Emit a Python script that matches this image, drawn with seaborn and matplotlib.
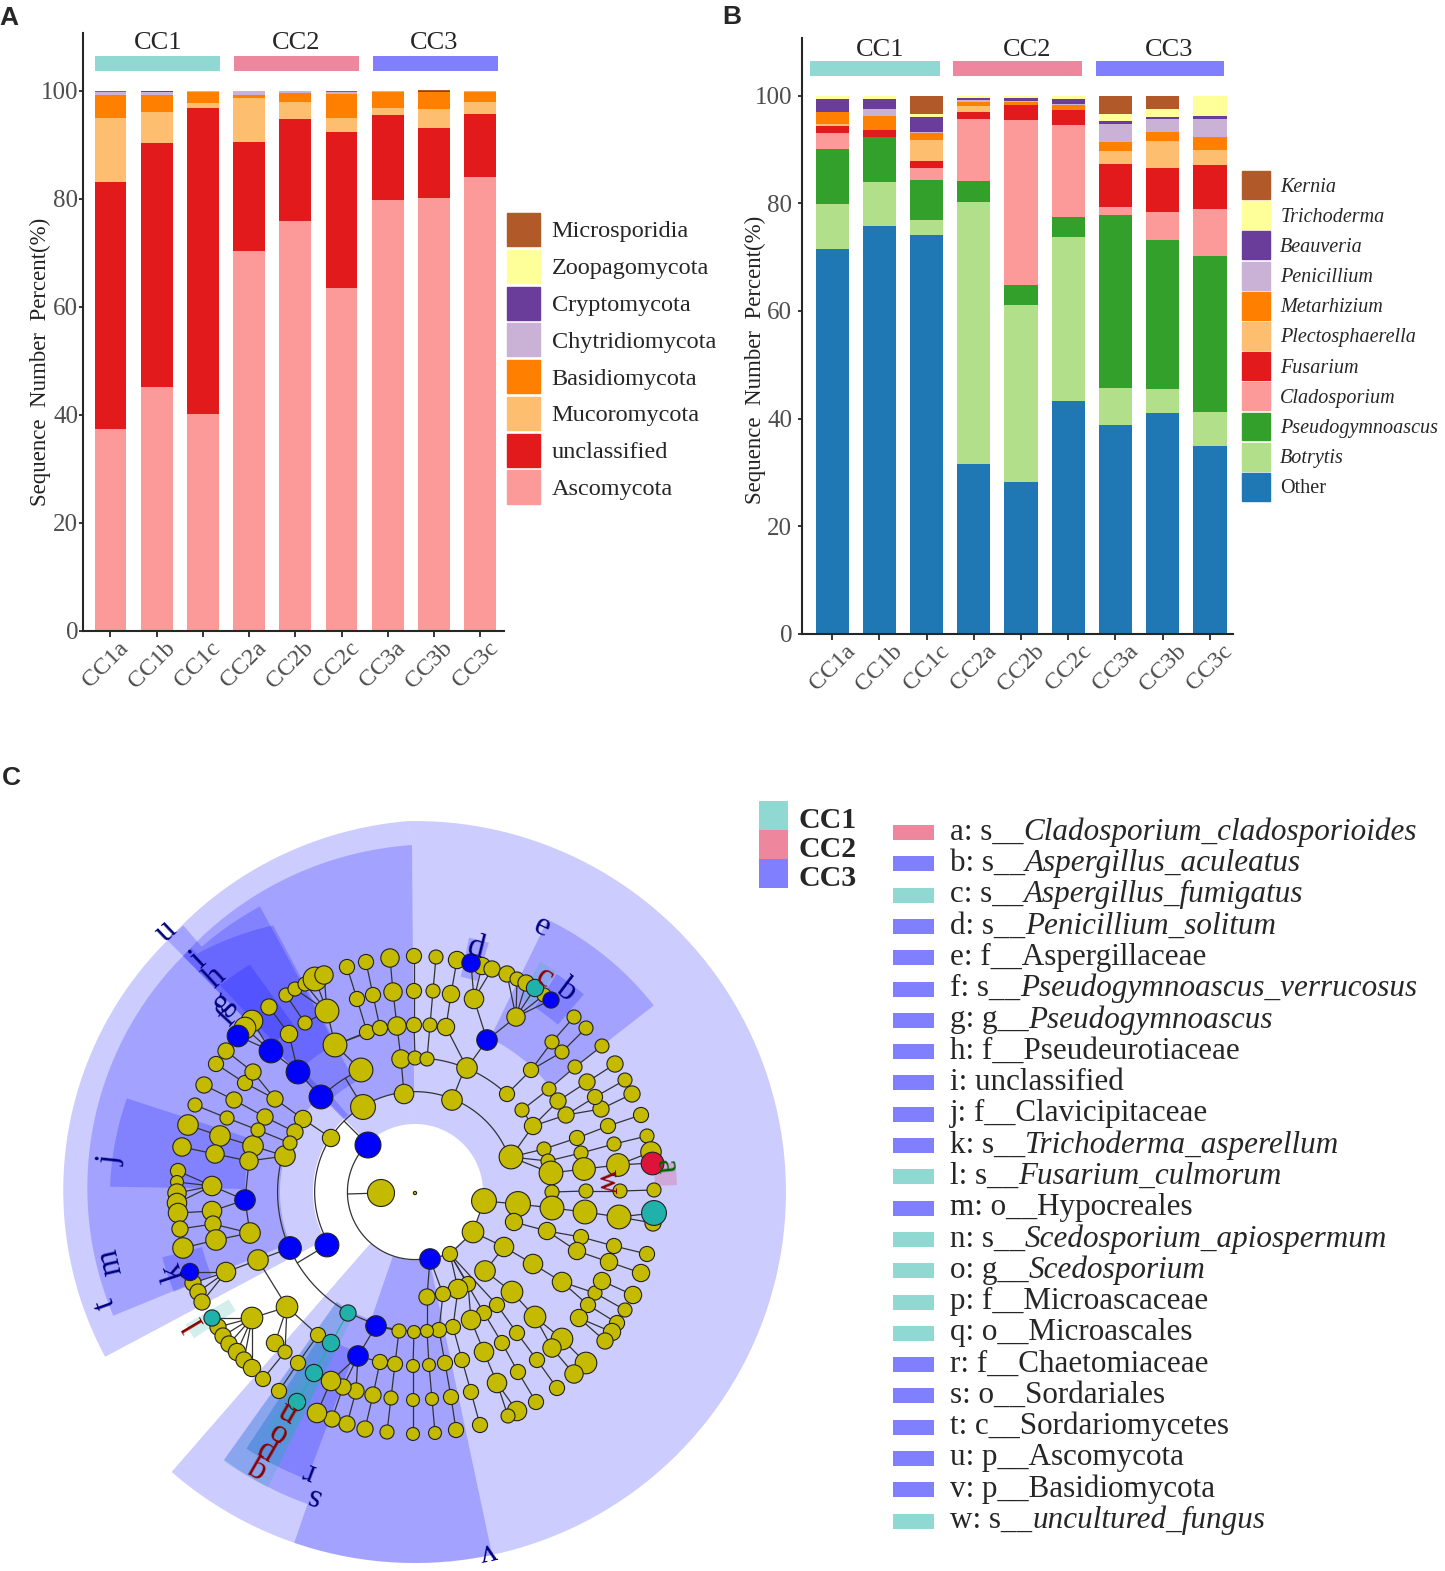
import numpy as np
import seaborn as sns
import matplotlib.pyplot as plt
from matplotlib.patches import Patch
from matplotlib.transforms import ScaledTranslation

samples = ['CC1a', 'CC1b', 'CC1c', 'CC2a', 'CC2b', 'CC2c', 'CC3a', 'CC3b', 'CC3c']
group_names = ['CC1', 'CC2', 'CC3']
group_colors = ['#8FD9D2', '#EE879D', '#8080FF']

# panel A, phyla, bottom to top
phylum_names = ['Ascomycota', 'unclassified', 'Mucoromycota', 'Basidiomycota',
                'Chytridiomycota', 'Cryptomycota', 'Zoopagomycota', 'Microsporidia']
phylum_colors = ['#FB9A99', '#E31A1C', '#FDBF6F', '#FF7F00', '#CAB2D6', '#6A3D9A', '#FFFF99', '#B15928']
ascomycota = [37.4, 45.2, 40.2, 70.4, 75.9, 63.5, 79.8, 80.1, 84.0]
unclassified = [45.7, 45.1, 56.6, 20.2, 18.9, 28.8, 15.7, 13.1, 11.7]
mucoromycota = [11.8, 5.8, 1.0, 8.0, 3.1, 2.6, 1.4, 3.5, 2.3]
basidiomycota = [4.3, 3.1, 2.0, 0.7, 1.7, 4.6, 2.8, 3.1, 1.8]
chytridiomycota = [0.6, 0.5, 0.1, 0.6, 0.3, 0.3, 0.2, 0.0, 0.1]
cryptomycota = [0.0, 0.2, 0.0, 0.0, 0.0, 0.0, 0.0, 0.1, 0.0]
zoopagomycota = [0.0, 0.0, 0.0, 0.0, 0.0, 0.0, 0.0, 0.0, 0.0]
microsporidia = [0.2, 0.1, 0.1, 0.1, 0.1, 0.1, 0.1, 0.2, 0.1]
phylum_values = [ascomycota, unclassified, mucoromycota, basidiomycota,
                 chytridiomycota, cryptomycota, zoopagomycota, microsporidia]

# panel B, genera, bottom to top
genus_names = ['Other', 'Botrytis', 'Pseudogymnoascus', 'Cladosporium', 'Fusarium', 'Plectosphaerella',
               'Metarhizium', 'Penicillium', 'Beauveria', 'Trichoderma', 'Kernia']
genus_colors = ['#1F78B4', '#B2DF8A', '#33A02C', '#FB9A99', '#E31A1C', '#FDBF6F',
                '#FF7F00', '#CAB2D6', '#6A3D9A', '#FFFF99', '#B15928']
other = [71.5, 75.7, 74.1, 31.6, 28.3, 43.3, 38.8, 41.1, 35.0]
botrytis = [8.4, 8.3, 2.8, 48.7, 32.9, 30.4, 6.9, 4.4, 6.3]
pseudogymnoascus = [10.2, 8.4, 7.5, 3.8, 3.6, 3.8, 32.1, 27.6, 29.0]
cladosporium = [2.9, 0.0, 2.1, 11.6, 30.6, 17.1, 1.5, 5.2, 8.6]
fusarium = [1.3, 1.2, 1.3, 1.3, 2.8, 2.7, 8.0, 8.2, 8.3]
plectosphaerella = [0.5, 0.0, 4.0, 1.1, 0.0, 0.0, 2.5, 5.0, 2.7]
metarhizium = [2.1, 2.6, 1.2, 0.7, 0.6, 1.0, 1.6, 1.8, 2.4]
penicillium = [0.1, 1.3, 0.3, 0.3, 0.2, 0.2, 3.3, 2.3, 3.3]
beauveria = [2.4, 1.8, 2.7, 0.5, 0.6, 0.8, 0.5, 0.5, 0.6]
trichoderma = [0.6, 0.7, 0.6, 0.4, 0.4, 0.7, 1.3, 1.4, 3.8]
kernia = [0.0, 0.0, 3.4, 0.0, 0.0, 0.0, 3.5, 2.5, 0.0]
genus_values = [other, botrytis, pseudogymnoascus, cladosporium, fusarium, plectosphaerella,
                metarhizium, penicillium, beauveria, trichoderma, kernia]

# panel C, cladogram nodes (pixels), one parent index per node
clade_x = [415, 381, 368, 430, 363, 404, 452, 511, 331, 327,
           361, 321, 335, 367, 357, 347, 380, 373, 366, 327, 305, 286, 295, 305, 315, 324,
           298, 271, 238, 252, 245, 289, 269,
           401, 397, 393, 390, 415, 414, 414, 414, 427, 430, 433, 436,
           467, 446, 451, 457, 487, 474, 482, 492, 471, 516, 507, 517, 526, 544, 535, 551,
           507, 531, 552, 574, 562, 586,
           533, 522, 549, 575, 602, 566, 601, 632, 595, 625, 558, 587, 615,
           544, 577, 608, 641, 548, 581, 614, 647, 551, 584, 618, 651, 652, 552, 586, 620, 654,
           450, 473, 484, 518, 552, 585, 619, 653, 654,
           514, 547, 581, 614, 647, 577, 609, 641,
           504, 533, 562, 595, 625, 602, 633, 588, 617, 579, 612, 605,
           485, 512, 535, 562, 586, 552, 574,
           468, 497, 517, 537, 557, 484, 502, 518, 536, 471, 484, 497, 517, 508,
           458, 453, 462, 471, 480, 443, 439, 445, 451, 456, 427, 427, 429, 432, 435,
           285, 290, 348, 376, 331, 314, 297,
           399, 395, 391, 387, 414, 413, 413, 413,
           358, 380, 373, 365, 356, 347, 343, 332, 331, 317,
           258, 226, 193, 198, 202, 190, 287, 318, 298, 279,
           252, 218, 223, 229, 237, 244, 252, 212, 275, 285, 263,
           253, 220, 188, 249, 215, 182, 245, 212, 178, 177, 177, 177, 178, 212,
           250, 213, 180, 216, 183,
           303, 275, 245, 216, 253, 226, 295, 265, 234, 204, 290, 258, 227, 195]
clade_y = [1193, 1193, 1145, 1259, 1107, 1094, 1100, 1157, 1138, 1245,
           1070, 1097, 1045, 1032, 999, 967, 1028, 995, 962, 1011, 1023, 995, 989, 984, 979, 975,
           1072, 1051, 1036, 1021, 1028, 1034, 1007,
           1059, 1026, 992, 958, 1058, 1025, 991, 956, 1059, 1025, 991, 957,
           1068, 1027, 994, 960, 1040, 999, 966, 969, 963, 1017, 974, 979, 983, 995, 988, 1000,
           1094, 1070, 1042, 1017, 1052, 1028,
           1126, 1110, 1089, 1067, 1046, 1115, 1109, 1094, 1097, 1080, 1101, 1082, 1064,
           1149, 1138, 1126, 1115, 1161, 1153, 1144, 1136, 1173, 1169, 1165, 1152, 1163, 1192, 1191, 1191, 1190,
           1254, 1232, 1201, 1204, 1208, 1212, 1217, 1223, 1213,
           1222, 1231, 1237, 1246, 1254, 1251, 1262, 1273,
           1247, 1264, 1282, 1293, 1310, 1281, 1295, 1305, 1323, 1318, 1332, 1341,
           1271, 1292, 1317, 1339, 1363, 1348, 1374,
           1284, 1305, 1333, 1360, 1388, 1313, 1343, 1372, 1402, 1320, 1352, 1383, 1411, 1416,
           1289, 1327, 1360, 1392, 1425, 1294, 1330, 1363, 1397, 1430, 1297, 1331, 1365, 1399, 1433,
           1156, 1248, 1313, 1326, 1343, 1373, 1402,
           1331, 1364, 1398, 1432, 1332, 1366, 1400, 1434,
           1356, 1362, 1395, 1429, 1391, 1424, 1387, 1419, 1381, 1413,
           1260, 1272, 1283, 1292, 1302, 1272, 1307, 1335, 1363, 1391,
           1318, 1327, 1336, 1344, 1352, 1360, 1368, 1318, 1343, 1352, 1379,
           1146, 1136, 1125, 1161, 1154, 1147, 1200, 1186, 1171, 1182, 1193, 1203, 1213, 1211,
           1233, 1224, 1229, 1240, 1248,
           1119, 1099, 1083, 1064, 1072, 1051, 1132, 1117, 1100, 1085, 1143, 1130, 1118, 1105]
clade_d = [3, 25, 24, 19, 23, 18, 19, 22, 16, 22,
           22, 22, 22, 14, 14, 14, 14, 14, 14, 22, 13, 13, 13, 13, 22, 17,
           22, 22, 20, 20, 20, 16, 15,
           17, 17, 17, 17, 13, 14, 14, 14, 13, 13, 13, 13,
           19, 16, 16, 16, 19, 18, 16, 15, 17, 17, 15, 13, 15, 13, 16, 15,
           14, 14, 13, 13, 13, 13,
           16, 13, 13, 13, 13, 15, 15, 15, 14, 13, 15, 15, 15,
           13, 14, 14, 14, 13, 13, 13, 13, 22, 21, 21, 19, 21, 13, 13, 13, 13,
           14, 20, 23, 23, 22, 22, 22, 15, 23,
           16, 16, 14, 14, 14, 16, 16, 16,
           18, 18, 18, 13, 13, 16, 16, 14, 14, 16, 16, 15,
           19, 20, 20, 20, 20, 17, 17,
           14, 14, 14, 14, 14, 14, 14, 14, 14, 18, 18, 18, 18, 13,
           18, 14, 14, 14, 14, 14, 14, 14, 14, 14, 15, 12, 12, 12, 12,
           19, 21, 15, 19, 16, 16, 16,
           13, 14, 13, 13, 12, 12, 12, 12,
           19, 14, 15, 15, 15, 15, 15, 15, 18, 18,
           19, 18, 15, 15, 15, 16, 20, 14, 14, 14,
           20, 15, 15, 15, 16, 15, 16, 15, 16, 13, 14,
           19, 19, 19, 17, 17, 17, 19, 18, 14, 12, 17, 18, 18, 18,
           19, 15, 15, 19, 19,
           16, 15, 14, 14, 15, 15, 15, 15, 15, 15, 13, 13, 13, 13]
clade_parent = [-1, -1, 1, 1, 2, 2, 2, 2, 2, 2,
                4, 4, 10, 12, 13, 14, 12, 16, 17, 12, 19, 20, 19, 19, 19, 19,
                11, 26, 27, 27, 27, 26, 31,
                5, 33, 34, 35, 6, 37, 38, 39, 6, 41, 42, 43,
                6, 45, 46, 47, 45, 49, 50, 50, 50, 49, 54, 54, 54, 54, 54, 54,
                6, 61, 62, 63, 62, 65,
                7, 67, 68, 69, 70, 67, 72, 73, 72, 75, 67, 77, 78,
                7, 80, 81, 82, 7, 84, 85, 86, 7, 88, 89, 90, 90, 88, 93, 94, 95,
                3, 97, 98, 99, 100, 101, 102, 103, 103,
                100, 106, 107, 108, 109, 107, 111, 112,
                98, 114, 115, 116, 117, 117, 119, 116, 121, 121, 123, 123,
                114, 126, 127, 128, 129, 128, 131,
                97, 97, 134, 135, 136, 97, 138, 139, 140, 133, 142, 143, 144, 144,
                97, 147, 148, 149, 150, 3, 152, 153, 154, 155, 3, 157, 158, 159, 160,
                9, 9, 9, 9, 164, 166, 167,
                165, 169, 170, 171, 165, 173, 174, 175,
                165, 177, 178, 179, 177, 181, 177, 183, 177, 185,
                163, 187, 188, 188, 188, 188, 187, 193, 194, 195,
                193, 197, 197, 197, 197, 197, 197, 197, 193, 193, 206,
                162, 208, 209, 162, 211, 212, 211, 214, 215, 215, 215, 215, 221, 214,
                214, 222, 223, 222, 225,
                8, 227, 228, 229, 228, 231, 227, 233, 234, 235, 233, 237, 238, 239]
# nodes enriched in a group, by index, the rest are not significant
cc1_nodes = [59, 105, 164, 166, 167, 168, 204]
cc2_nodes = [92]
cc3_nodes = [2, 3, 9, 11, 26, 27, 28, 49, 53, 60, 163, 165, 177, 192, 214]
arc_parents = [1, 2, 4, 6, 9]

# shaded clade sectors: angle from, angle to, inner radius, outer radius at both ends
sector_t1 = [-91, -134, 152, 157.7, 226, 225.5, 229, 227.5, 225.5, 226.7, 181, 157.5,
             -64, -78, -57, 78, 109, 110.6]
sector_t2 = [131, -91, 226, 226, 269.5, 229, 241.5, 242, 227.5, 234, 198, 165.5,
             -38, -73.5, -49.5, 109, 125.5, 123.3]
sector_rin = [68, 68, 102, 135, 100, 102, 125, 168, 135, 205, 170, 220,
              171, 220, 220, 68, 135, 170]
sector_r1 = [371, 353, 351, 326, 331, 353, 325, 323, 331, 284, 305, 261,
             303, 260, 260, 371, 330, 307]
sector_r2 = [371, 371, 353, 331, 347, 353, 325, 302, 331, 281, 303, 261,
             303, 260, 260, 371, 329, 307]
teal_t1 = [116.5, 116.5, 117, 118, -61.5, 146.5]
teal_t2 = [125.4, 123.3, 122, 120, -57.5, 150]
teal_rin = [135, 170, 205, 240, 220, 215]
teal_rout = [330, 307, 282, 260, 262, 265]

label_chars = ['a', 'b', 'c', 'd', 'e', 'f', 'g', 'h', 'i', 'j', 'k', 'l',
               'm', 'n', 'o', 'p', 'q', 'r', 's', 't', 'u', 'v', 'w']
label_x = [666, 567, 544, 476, 542, 227, 223, 215, 198, 110, 173, 195,
           110, 288, 277, 267, 256, 309, 313, 105, 166, 488, 608]
label_y = [1167, 990, 978, 948, 927, 1017, 1002, 977, 960, 1160, 1272, 1323,
           1262, 1412, 1432, 1450, 1468, 1472, 1497, 1303, 931, 1552, 1182]
label_colors = ['#006400', '#000080', '#8B0000', '#000080', '#000080', '#000080', '#000080', '#000080',
                '#000080', '#000080', '#000080', '#8B0000', '#000080', '#8B0000', '#8B0000', '#8B0000',
                '#8B0000', '#000080', '#000080', '#000080', '#000080', '#000080', '#8B0000']

key_prefix = ['a: s__', 'b: s__', 'c: s__', 'd: s__', 'e: f__Aspergillaceae', 'f: s__', 'g: g__',
              'h: f__Pseudeurotiaceae', 'i: unclassified', 'j: f__Clavicipitaceae', 'k: s__', 'l: s__',
              'm: o__Hypocreales', 'n: s__', 'o: g__', 'p: f__Microascaceae', 'q: o__Microascales',
              'r: f__Chaetomiaceae', 's: o__Sordariales', 't: c__Sordariomycetes', 'u: p__Ascomycota',
              'v: p__Basidiomycota', 'w: s__']
key_italic = ['Cladosporium_cladosporioides', 'Aspergillus_aculeatus', 'Aspergillus_fumigatus',
              'Penicillium_solitum', '', 'Pseudogymnoascus_verrucosus', 'Pseudogymnoascus', '', '', '',
              'Trichoderma_asperellum', 'Fusarium_culmorum', '', 'Scedosporium_apiospermum',
              'Scedosporium', '', '', '', '', '', '', '', 'uncultured_fungus']
key_group = [1, 2, 0, 2, 2, 2, 2, 2, 2, 2, 2, 0, 2, 0, 0, 0, 0, 2, 2, 2, 2, 2, 0]

sns.set_style('ticks')
plt.rcParams['font.family'] = ['Liberation Serif', 'DejaVu Serif']

W, H = 1445, 1571
fig = plt.figure(figsize=(W / 100, H / 100), dpi=100)


def stacked_panel(box, values, colors, xlim, bar_width, spans, group_y, ypad, xshift):
    left, top, right, bottom = box
    ax = fig.add_axes([left / W, 1 - bottom / H, (right - left) / W, (bottom - top) / H])
    base = np.zeros(len(samples))
    for vals, col in zip(values, colors):
        sns.barplot(x=samples, y=vals, bottom=base, color=col, saturation=1, width=bar_width,
                    errorbar=None, linewidth=0, ax=ax)
        base = base + np.array(vals)
    for (x0, x1), col in zip(spans, group_colors):
        ax.bar((x0 + x1) / 2, group_y[1] - group_y[0], x1 - x0, bottom=group_y[0], color=col, linewidth=0)
    ax.set_xlim(*xlim)
    ax.set_ylim(0, 110.7)
    ax.set_yticks([0, 20, 40, 60, 80, 100])
    ax.set_xlabel('')
    ax.set_ylabel('')
    ax.tick_params(axis='y', labelsize=18, labelcolor='#4d4d4d', width=1.3, length=3, pad=ypad)
    ax.tick_params(axis='x', labelsize=17.5, labelcolor='#4d4d4d', width=1.3, length=4, labelrotation=45, pad=1)
    shift = ScaledTranslation(xshift / 100, 0, fig.dpi_scale_trans)
    for lab in ax.get_xticklabels():
        lab.set_transform(lab.get_transform() + shift)
    sns.despine(ax=ax)
    for s in ['left', 'bottom']:
        ax.spines[s].set_linewidth(1.5)
    return ax


ax_a = stacked_panel((83, 33, 504, 631), phylum_values, phylum_colors, (-0.595, 8.517), 0.69,
                     [(-0.335, 2.37), (2.675, 5.38), (5.685, 8.39)], (103.7, 106.5), 0.5, -5)
ax_b = stacked_panel((802, 38, 1233, 634), genus_values, genus_colors, (-0.64, 8.49), 0.705,
                     [(-0.477, 2.28), (2.55, 5.29), (5.58, 8.29)], (103.7, 106.4), 4, 0)

# overlay in picture pixels for the cladogram and the loose texts
page = fig.add_axes([0, 0, 1, 1], facecolor='none')
page.set_xlim(0, W)
page.set_ylim(H, 0)
page.axis('off')

for name, x, y in zip(group_names * 2, [158, 296, 434, 880, 1027, 1169], [43, 43, 43, 50, 50, 50]):
    page.text(x, y, name, fontsize=19, ha='center', va='center')
page.text(40, 362, 'Sequence  Number  Percent(%)', fontsize=16.5, rotation=90, ha='center', va='center', color='#222222')
page.text(755, 360, 'Sequence  Number  Percent(%)', fontsize=16.5, rotation=90, ha='center', va='center', color='#222222')
for ch, x, y in zip('ABC', [9, 732, 11], [18, 17, 778]):
    page.text(x, y, ch, fontsize=19, fontweight='bold', family='Liberation Sans', ha='center', va='center')

leg_a = fig.legend(handles=[Patch(color=c, label=n) for n, c in zip(phylum_names[::-1], phylum_colors[::-1])],
                   loc='upper left', bbox_to_anchor=(507 / W, 1 - 213 / H), frameon=False, fontsize=17.5,
                   handlelength=1.37, handleheight=1.72, labelspacing=0.15, handletextpad=0.47, borderpad=0, borderaxespad=0)
leg_b = fig.legend(handles=[Patch(color=c, label=n) for n, c in zip(genus_names[::-1], genus_colors[::-1])],
                   loc='upper left', bbox_to_anchor=(1242 / W, 1 - 171 / H), frameon=False, fontsize=14.5,
                   handlelength=1.4, handleheight=1.76, labelspacing=0.11, handletextpad=0.5, borderpad=0, borderaxespad=0)
for t in leg_b.get_texts():
    if t.get_text() != 'Other':
        t.set_fontstyle('italic')

# cladogram
cx, cy = 415.0, 1192.0


def sector(t1, t2, rin, r1, r2, color):
    th = np.radians(np.linspace(t1, t2, 120))
    ro = np.linspace(r1, r2, 120)
    xs = np.r_[cx + ro * np.cos(th), cx + rin * np.cos(th[::-1])]
    ys = np.r_[cy + ro * np.sin(th), cy + rin * np.sin(th[::-1])]
    page.fill(xs, ys, color=color, alpha=0.2, linewidth=0, zorder=1)


for t1, t2, rin, r1, r2 in zip(sector_t1, sector_t2, sector_rin, sector_r1, sector_r2):
    sector(t1, t2, rin, r1, r2, '#0000FF')
for t1, t2, rin, ro in zip(teal_t1, teal_t2, teal_rin, teal_rout):
    sector(t1, t2, rin, ro, ro, '#20B2AA')
sector(-6.5, -1.5, 240, 262, 262, '#DC143C')

xy = np.column_stack([clade_x, clade_y]).astype(float)
for i, p in enumerate(clade_parent):
    if p < 0 or p in arc_parents:
        continue
    col = '#20B2AA' if i in cc1_nodes and p in cc1_nodes else '#333333'
    page.plot([xy[p, 0], xy[i, 0]], [xy[p, 1], xy[i, 1]], color=col, lw=0.9, zorder=2)

for p in arc_parents:
    kids = [i for i, q in enumerate(clade_parent) if q == p]
    pa = np.degrees(np.arctan2(xy[p, 1] - cy, xy[p, 0] - cx))
    ka = np.degrees(np.arctan2(xy[kids, 1] - cy, xy[kids, 0] - cx))
    ka = pa + (ka - pa + 180) % 360 - 180
    rr = np.hypot(xy[kids, 0] - cx, xy[kids, 1] - cy).mean()
    th = np.radians(np.linspace(ka.min(), ka.max(), 100))
    page.plot(cx + rr * np.cos(th), cy + rr * np.sin(th), color='#333333', lw=0.9, zorder=2)
    page.plot([xy[p, 0], cx + rr * np.cos(np.radians(pa))], [xy[p, 1], cy + rr * np.sin(np.radians(pa))],
              color='#333333', lw=0.9, zorder=2)

kind = np.zeros(len(clade_x), dtype=int)
kind[cc1_nodes] = 1
kind[cc2_nodes] = 2
kind[cc3_nodes] = 3
node_colors = ['#C4BA00', '#20B2AA', '#DC143C', '#0000FF']
area = (np.array(clade_d) * 0.72 * 1.08) ** 2
for k, col in enumerate(node_colors):
    m = kind == k
    sns.scatterplot(x=xy[m, 0], y=xy[m, 1], s=area[m], color=col, edgecolor='#222222', linewidth=0.8,
                    ax=page, legend=False, zorder=3 + k)
page.set_xlim(0, W)
page.set_ylim(H, 0)
page.axis('off')

for ch, x, y, col in zip(label_chars, label_x, label_y, label_colors):
    th = np.degrees(np.arctan2(y - cy, x - cx))
    page.text(x, y, ch, color=col, fontsize=24, rotation=(270 - th) % 360, rotation_mode='anchor',
              ha='center', va='center', zorder=8)

# CC1/CC2/CC3 key
for i, (name, col) in enumerate(zip(group_names, group_colors)):
    y0 = 801 + 29 * i
    page.fill([759, 788, 788, 759], [y0, y0, y0 + 29, y0 + 29], color=col, linewidth=0)
    page.text(798, y0 + 19, name, fontsize=21.5, fontweight='bold', ha='left', va='center')

# taxa key
renderer = fig.canvas.get_renderer()
for i, (pre, ita, g) in enumerate(zip(key_prefix, key_italic, key_group)):
    y = 829 + 31.3 * i
    page.fill([893, 934, 934, 893], [y - 4, y - 4, y + 11, y + 11], color=group_colors[g], linewidth=0)
    t = page.text(950, y + 3, pre, fontsize=22.4, ha='left', va='center')
    if ita:
        x1 = t.get_window_extent(renderer).x1
        page.text(x1, y + 3, ita, fontsize=22.4, style='italic', ha='left', va='center')

fig.savefig('out.png', dpi=100)
